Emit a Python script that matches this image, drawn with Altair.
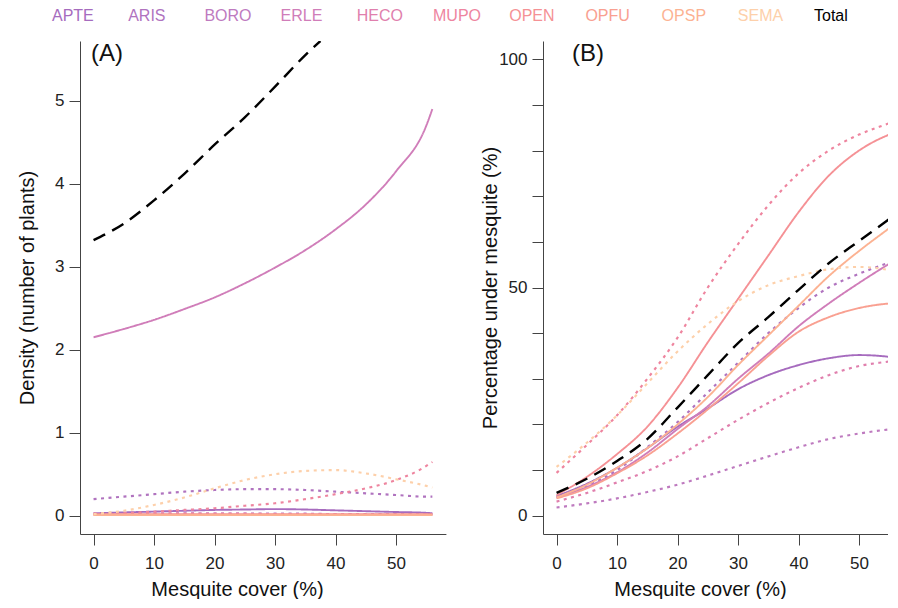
import altair as alt
import pandas as pd

FONT = "Liberation Sans"

species = ["APTE", "ARIS", "BORO", "ERLE", "HECO", "MUPO", "OPEN", "OPFU", "OPSP", "SEMA"]
colors = ["#A66BBE", "#B073BF", "#BE7ABF", "#D07DB9", "#E07FAD", "#EE859F",
          "#F59195", "#F9A091", "#FCB292", "#FDD0AA"]
ltypes = ["solid", "dotted", "dotted", "solid", "dotted", "dotted",
          "solid", "solid", "solid", "dotted"]

cover = [0, 5, 10, 15, 20, 25, 30, 35, 40, 45, 50, 55, 56]

# Panel A: density (number of plants)
dens_APTE = [0.03, 0.04, 0.05, 0.06, 0.07, 0.075, 0.08, 0.075, 0.065, 0.055, 0.045, 0.035, 0.03]
dens_ARIS = [0.20, 0.23, 0.26, 0.29, 0.31, 0.32, 0.32, 0.31, 0.29, 0.27, 0.25, 0.23, 0.23]
dens_BORO = [0.02, 0.02, 0.02, 0.025, 0.025, 0.025, 0.025, 0.025, 0.02, 0.02, 0.02, 0.02, 0.02]
dens_ERLE = [2.15, 2.25, 2.36, 2.49, 2.63, 2.80, 2.99, 3.20, 3.45, 3.75, 4.15, 4.70, 4.90]
dens_HECO = [0.03, 0.03, 0.03, 0.03, 0.025, 0.025, 0.02, 0.02, 0.02, 0.015, 0.015, 0.015, 0.015]
dens_MUPO = [0.02, 0.03, 0.05, 0.07, 0.09, 0.12, 0.15, 0.20, 0.26, 0.33, 0.43, 0.60, 0.65]
dens_OPEN = [0.02, 0.02, 0.02, 0.02, 0.02, 0.02, 0.02, 0.02, 0.02, 0.02, 0.02, 0.02, 0.02]
dens_OPFU = [0.012, 0.012, 0.012, 0.012, 0.012, 0.012, 0.012, 0.012, 0.012, 0.012, 0.012, 0.012, 0.012]
dens_OPSP = [0.008, 0.008, 0.008, 0.008, 0.008, 0.008, 0.008, 0.008, 0.008, 0.008, 0.008, 0.008, 0.008]
dens_SEMA = [0.02, 0.06, 0.13, 0.22, 0.33, 0.43, 0.50, 0.54, 0.55, 0.51, 0.44, 0.36, 0.34]
# the total leaves the top of panel A at about 37.5 % cover
cover_total_A = [0, 5, 10, 15, 20, 25, 30, 35, 37.5]
dens_Total = [3.32, 3.52, 3.80, 4.12, 4.47, 4.80, 5.17, 5.55, 5.72]

# Panel B: percentage under mesquite (%)
pct_APTE = [4.3, 7.0, 10.5, 14.8, 19.5, 23.5, 27.7, 30.8, 33.0, 34.5, 35.2, 34.8, 34.5]
pct_ARIS = [4.0, 6.5, 10.0, 15.0, 20.5, 27.0, 33.5, 40.0, 45.5, 50.0, 53.0, 55.5, 56.0]
pct_BORO = [1.8, 2.7, 3.8, 5.2, 6.8, 8.8, 10.9, 13.0, 15.0, 16.8, 18.0, 18.9, 19.0]
pct_ERLE = [4.0, 6.3, 9.5, 13.8, 19.0, 24.0, 30.0, 35.5, 41.5, 46.5, 51.0, 55.2, 56.0]
pct_HECO = [3.1, 5.0, 7.3, 9.8, 13.0, 17.0, 21.0, 24.7, 28.0, 30.8, 32.8, 33.8, 34.0]
pct_MUPO = [9.4, 15.5, 22.0, 30.0, 39.0, 50.0, 59.5, 68.0, 75.0, 80.0, 83.5, 86.0, 86.5]
pct_OPEN = [4.5, 8.5, 13.5, 19.5, 28.0, 38.0, 47.5, 57.0, 66.5, 74.5, 80.0, 83.5, 84.0]
pct_OPFU = [3.8, 6.0, 9.3, 13.2, 18.0, 23.3, 29.0, 35.0, 40.3, 43.5, 45.5, 46.5, 46.6]
pct_OPSP = [4.0, 6.8, 10.5, 14.8, 20.0, 26.0, 33.0, 39.5, 46.0, 52.5, 58.0, 63.0, 64.0]
pct_SEMA = [10.7, 16.0, 22.0, 29.0, 36.0, 42.0, 47.0, 50.5, 52.5, 54.0, 54.5, 53.8, 53.5]
pct_Total = [5.0, 8.1, 12.0, 16.8, 23.7, 30.8, 37.8, 43.5, 49.5, 55.3, 60.2, 65.0, 66.0]

x_ticks = [0, 10, 20, 30, 40, 50]
yA_ticks = [0, 1, 2, 3, 4, 5]
yB_ticks = [0, 10, 20, 30, 40, 50, 60, 70, 80, 90, 100]
panel_labels = ["(A)", "(B)"]
legend_names = species + ["Total"]

dens = {"APTE": dens_APTE, "ARIS": dens_ARIS, "BORO": dens_BORO, "ERLE": dens_ERLE,
        "HECO": dens_HECO, "MUPO": dens_MUPO, "OPEN": dens_OPEN, "OPFU": dens_OPFU,
        "OPSP": dens_OPSP, "SEMA": dens_SEMA}
pct = {"APTE": pct_APTE, "ARIS": pct_ARIS, "BORO": pct_BORO, "ERLE": pct_ERLE,
       "HECO": pct_HECO, "MUPO": pct_MUPO, "OPEN": pct_OPEN, "OPFU": pct_OPFU,
       "OPSP": pct_OPSP, "SEMA": pct_SEMA}


def build(table, total_x, total_y):
    rows = []
    for sp, lt in zip(species, ltypes):
        for xv, yv in zip(cover, table[sp]):
            rows.append({"species": sp, "lt": lt, "cover": xv, "value": yv})
    for xv, yv in zip(total_x, total_y):
        rows.append({"species": "Total", "lt": "dashed", "cover": xv, "value": yv})
    return pd.DataFrame(rows)


dfA = build(dens, cover_total_A, dens_Total)
dfB = build(pct, cover, pct_Total)

color_scale = alt.Scale(domain=legend_names, range=colors + ["#000000"])
dash_scale = alt.Scale(domain=["solid", "dotted", "dashed"], range=[[1, 0], [3, 4.5], [13, 8]])
width_scale = alt.Scale(domain=["solid", "dotted", "dashed"], range=[1.9, 2.4, 3.3])

PLOT_H = 493
X_PX = 6.05


def panel(df, xdom, ydom, yticks, ytitle, label, label_dx, ylabexpr):
    width = (xdom[1] - xdom[0]) * X_PX
    x = alt.X("cover:Q", scale=alt.Scale(domain=xdom, nice=False, zero=False),
              axis=alt.Axis(values=x_ticks, title="Mesquite cover (%)", titleX=157,
                            labelPadding=10, titlePadding=8))
    yax = dict(values=yticks, title=ytitle, minExtent=36, maxExtent=36,
               titlePadding=7, labelPadding=5)
    if ylabexpr:
        yax["labelExpr"] = ylabexpr
    y = alt.Y("value:Q", scale=alt.Scale(domain=ydom, nice=False, zero=False),
              axis=alt.Axis(**yax))
    enc = dict(
        x=x, y=y,
        color=alt.Color("species:N", scale=color_scale, legend=None),
        strokeDash=alt.StrokeDash("lt:N", scale=dash_scale, legend=None),
        strokeWidth=alt.StrokeWidth("lt:O", scale=width_scale, legend=None),
    )
    base = alt.Chart(df)
    lines = base.transform_filter(alt.datum.species != "Total").mark_line(
        interpolate="monotone", clip=True, strokeCap="butt").encode(**enc)
    total = base.transform_filter(alt.datum.species == "Total").mark_line(
        interpolate="monotone", clip=True, strokeCap="butt").encode(**enc)
    lab = alt.Chart(pd.DataFrame({"t": [label]})).mark_text(
        align="left", baseline="top", font=FONT, fontSize=24, color="#111",
        dx=label_dx, dy=1).encode(text="t:N", x=alt.value(0), y=alt.value(0))
    return alt.layer(lines, total, lab).properties(width=width, height=PLOT_H)


chartA = panel(dfA, [-2.24, 58.24], [-0.22, 5.72], yA_ticks,
               "Density (number of plants)", panel_labels[0], 11, None)
chartB = panel(dfB, [-2.24, 56.0], [-4, 104], yB_ticks,
               "Percentage under mesquite (%)", panel_labels[1], 29,
               "datum.value % 50 == 0 ? datum.label : ''")

leg = alt.Chart(pd.DataFrame({"species": legend_names})).mark_text(
    align="left", baseline="middle", font=FONT, fontSize=16).encode(
    x=alt.X("species:N", sort=legend_names,
            scale=alt.Scale(type="point", padding=0, range=[-28, 734]), axis=None),
    y=alt.value(8),
    text="species:N",
    color=alt.Color("species:N", scale=color_scale, legend=None),
).properties(width=760, height=16)

chart = alt.vconcat(
    leg,
    alt.hconcat(chartA, chartB, spacing=34),
    spacing=17,
).properties(
    padding={"left": 9, "top": 0, "right": -8, "bottom": 0}
).configure_view(stroke=None).configure_axis(
    labelFont=FONT, titleFont=FONT, labelFontSize=17, titleFontSize=20,
    titleFontWeight="normal", labelColor="#222222", titleColor="#111111",
    domainColor="#444444", tickColor="#444444", tickSize=11, grid=False,
    labelAngle=0,
)

chart.save("out.html", embed_options={"renderer": "svg", "actions": False})
